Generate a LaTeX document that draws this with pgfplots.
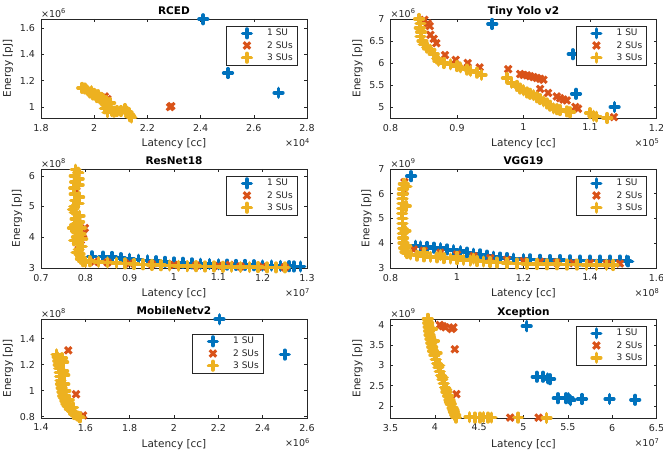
\documentclass[border=0pt]{standalone}
\usepackage{pgfplots}
\pgfplotsset{compat=1.18}
\usepackage{fontspec}
\setmainfont{DejaVu Sans}
\definecolor{c1}{rgb}{0,0.447,0.741}
\definecolor{c2}{rgb}{0.850,0.325,0.098}
\definecolor{c3}{rgb}{0.929,0.694,0.125}
\definecolor{axgray}{rgb}{0.15,0.15,0.15}
\tikzset{scl/.style={inner sep=0pt, font=\fontsize{9.5}{11}\selectfont, text=axgray}}
\pgfplotsset{
 su1/.style={only marks, color=c1, mark=+, mark size=4.3pt, mark options={line width=3.6pt, line cap=round, solid}},
 su2/.style={only marks, color=c2, mark=x, mark size=4.6pt, mark options={line width=3pt, solid}},
 su3/.style={only marks, color=c3, mark=+, mark size=4.3pt, mark options={line width=3.6pt, line cap=round, solid}},
 myax/.style={scale only axis, width=266pt, height=99pt, clip=false,
  axis line style={axgray, line width=0.5pt},
  every tick/.style={axgray, line width=0.5pt}, major tick length=2.8pt,
  tick label style={font=\fontsize{9.5}{11}\selectfont, text=axgray},
  /pgf/number format/assume math mode=true, scaled ticks=false,
  xticklabel style={yshift=-2.5pt}, yticklabel style={xshift=-2.5pt},
  xlabel={Latency [cc]}, ylabel={Energy [pJ]},
  label style={font=\fontsize{10.5}{12}\selectfont, text=axgray},
  xlabel style={at={(axis description cs:0.5,0)}, anchor=base, yshift=-29pt, inner sep=0pt},
  title style={font=\bfseries\fontsize{10.5}{12}\selectfont, at={(axis description cs:0.5,1)}, anchor=base, yshift=-2pt, inner sep=0pt},
  legend style={draw=axgray, line width=0.5pt, fill=white, font=\fontsize{9}{10}\selectfont, text=axgray,
   at={(1,1)}, anchor=north east, xshift=-10pt, yshift=-7pt, inner xsep=2pt, inner ysep=1pt, row sep=0pt},
  legend cell align=left,
  legend image code/.code={\path (0pt,0pt) (36pt,0pt); \draw[##1] plot coordinates {(18pt,0pt)};},
 },
}
\newcommand{\yscl}[1]{\node[scl, anchor=south west, yshift=1.5pt] at (rel axis cs:0,1) {×10\textsuperscript{#1}};}
\newcommand{\xscl}[1]{\node[scl, anchor=north east, yshift=-20pt, xshift=3pt] at (rel axis cs:1,0) {×10\textsuperscript{#1}};}
\begin{document}
\begin{tikzpicture}
\path[use as bounding box] (0pt,0pt) rectangle (663pt,455pt);
% RCED
\begin{axis}[myax, at={(41pt,337pt)}, anchor=south west, title={RCED},
 xmin=1.8, xmax=2.8, ymin=0.917, ymax=1.667,
 xtick={1.8,2,2.2,2.4,2.6,2.8}, ytick={1,1.2,1.4,1.6}]
\addplot[su1] coordinates {(2.41,1.665) (2.503,1.258) (2.693,1.108)};
\addplot[su2] coordinates {(2.285,1.0) (2.29,1.007) (2.04,1.08) (2.03,1.07) (2.05,1.06)};
\addplot[su3] coordinates {(1.955,1.145) (1.965,1.14) (1.975,1.125) (1.985,1.11) (1.99,1.12) (1.995,1.095) (2.0,1.1) (2.005,1.085) (2.01,1.075) (2.015,1.09) (2.02,1.065) (2.025,1.07) (2.03,1.05) (2.035,1.06) (2.04,1.035) (2.045,1.045) (2.045,1.02) (2.05,1.0) (2.04,0.99) (2.05,0.96) (2.06,1.03) (2.065,0.97) (2.075,0.965) (2.085,0.97) (2.1,0.97) (2.115,0.985) (2.125,0.965) (2.13,0.95) (2.135,0.93) (2.14,0.92)};
\legend{1 SU,2 SUs,3 SUs}
\yscl{6}\xscl{4}
\end{axis}
% Tiny Yolo v2
\begin{axis}[myax, at={(390.5pt,337pt)}, anchor=south west, title={Tiny Yolo v2},
 xmin=0.8, xmax=1.2, ymin=4.75, ymax=7.0,
 xtick={0.8,0.9,1,1.1,1.2}, ytick={5,5.5,6,6.5,7}]
\addplot[su1] coordinates {(0.953,6.887) (1.074,6.2) (1.079,5.30) (1.137,5.0)};
\addplot[su2] coordinates {(0.851,6.98) (0.856,6.9) (0.859,6.84) (0.86,6.64) (0.865,6.55) (0.869,6.45) (0.882,6.18) (0.898,6.07) (0.916,6.0) (0.934,5.9) (0.977,5.86) (0.995,5.75) (1.0,5.73) (1.005,5.72) (1.01,5.7) (1.015,5.68) (1.02,5.66) (1.025,5.64) (1.03,5.62) (1.025,5.41) (1.037,5.32) (1.05,5.24) (1.055,5.2) (1.06,5.17) (1.065,5.15) (1.078,5.0) (1.082,4.96) (1.136,4.77)};
\addplot[su3] coordinates {(0.843,7.0) (0.845,6.9) (0.844,6.8) (0.846,6.7) (0.845,6.6) (0.848,6.5) (0.85,6.42) (0.855,6.35) (0.86,6.3) (0.865,6.2) (0.87,6.1) (0.872,6.05) (0.88,6.0) (0.89,5.97) (0.9,5.93) (0.905,5.9) (0.915,5.85) (0.92,5.82) (0.93,5.78) (0.937,5.73) (0.975,5.66) (0.982,5.55) (0.99,5.48) (0.995,5.42) (1.0,5.38) (1.005,5.33) (1.01,5.3) (1.015,5.27) (1.02,5.22) (1.025,5.18) (1.03,5.13) (1.035,5.08) (1.04,5.03) (1.045,4.97) (1.05,4.95) (1.055,4.93) (1.065,4.9) (1.07,4.88) (1.1,4.86) (1.105,4.8) (1.11,4.78) (1.126,4.75)};
\legend{1 SU,2 SUs,3 SUs}
\yscl{6}\xscl{5}
\end{axis}
% ResNet18
\begin{axis}[myax, at={(41pt,187pt)}, anchor=south west, title={ResNet18},
 xmin=0.7, xmax=1.3, ymin=3.0, ymax=6.22,
 xtick={0.7,0.8,0.9,1,1.1,1.2,1.3}, ytick={3,4,5,6}]
\addplot[su1] coordinates {(0.815,3.38) (0.84,3.37) (0.86,3.36) (0.88,3.32) (0.9,3.3) (0.92,3.27) (0.94,3.25) (0.96,3.22) (0.98,3.2) (1.0,3.18) (1.02,3.17) (1.04,3.15) (1.06,3.14) (1.08,3.13) (1.1,3.12) (1.12,3.11) (1.14,3.1) (1.16,3.1) (1.18,3.09) (1.2,3.08) (1.22,3.08) (1.24,3.07) (1.26,3.06) (1.27,3.05) (1.285,3.05)};
\addplot[su2] coordinates {(0.78,6.1) (0.78,5.5) (0.785,3.6) (0.79,3.9) (0.795,4.1) (0.799,4.3) (0.82,3.2) (0.85,3.18) (0.9,3.15) (0.95,3.12) (1.0,3.1) (1.05,3.08) (1.1,3.07) (1.126,3.1) (1.15,3.05) (1.2,3.04) (1.25,3.02)};
\addplot[su3] coordinates {(0.778,6.2) (0.776,6.0) (0.777,5.8) (0.775,5.6) (0.776,5.4) (0.777,5.2) (0.775,5.0) (0.776,4.8) (0.778,4.6) (0.777,4.4) (0.779,4.2) (0.781,4.0) (0.783,3.8) (0.785,3.6) (0.787,3.45) (0.79,3.3) (0.795,3.22) (0.8,3.2) (0.785,5.9) (0.786,5.3) (0.787,4.7) (0.789,4.1) (0.792,3.7) (0.784,6.1) (0.785,5.7) (0.785,5.1) (0.786,4.5) (0.79,4.3) (0.793,3.95) (0.772,4.9) (0.772,4.3) (0.775,3.9) (0.78,3.5) (0.81,3.22) (0.83,3.2) (0.85,3.18) (0.87,3.17) (0.89,3.15) (0.91,3.13) (0.93,3.12) (0.95,3.1) (0.97,3.09) (0.99,3.08) (1.01,3.07) (1.03,3.06) (1.05,3.06) (1.07,3.05) (1.09,3.05) (1.11,3.04) (1.13,3.04) (1.15,3.03) (1.17,3.03) (1.19,3.03) (1.21,3.02) (1.23,3.02) (1.25,3.02)};
\legend{1 SU,2 SUs,3 SUs}
\yscl{8}\xscl{7}
\end{axis}
% VGG19
\begin{axis}[myax, at={(390.5pt,187pt)}, anchor=south west, title={VGG19},
 xmin=0.8, xmax=1.6, ymin=3.0, ymax=7.0,
 xtick={0.8,1,1.2,1.4,1.6}, ytick={3,4,5,6,7}]
\addplot[su1] coordinates {(0.862,6.71) (0.875,3.9) (0.89,3.87) (0.91,3.85) (0.93,3.82) (0.95,3.8) (0.97,3.75) (0.99,3.72) (1.01,3.68) (1.03,3.62) (1.05,3.58) (1.07,3.55) (1.09,3.5) (1.11,3.46) (1.13,3.42) (1.15,3.4) (1.17,3.38) (1.2,3.36) (1.22,3.35) (1.25,3.33) (1.28,3.32) (1.31,3.32) (1.34,3.31) (1.37,3.3) (1.4,3.3) (1.43,3.3) (1.46,3.3) (1.49,3.3) (1.51,3.3) (1.515,3.27)};
\addplot[su2] coordinates {(0.842,6.47) (0.843,6.1) (0.87,3.75) (0.9,3.7) (0.95,3.62) (1.0,3.55) (1.05,3.48) (1.1,3.4) (1.15,3.33) (1.2,3.28) (1.25,3.25) (1.3,3.22) (1.35,3.2) (1.4,3.2) (1.45,3.18) (1.49,3.18)};
\addplot[su3] coordinates {(0.84,6.4) (0.838,6.2) (0.837,6.0) (0.836,5.8) (0.836,5.6) (0.835,5.4) (0.835,5.2) (0.836,5.0) (0.836,4.8) (0.837,4.6) (0.837,4.4) (0.838,4.2) (0.839,4.0) (0.841,3.8) (0.845,3.65) (0.85,3.6) (0.848,6.3) (0.846,5.5) (0.845,4.5) (0.847,3.9) (0.86,3.55) (0.88,3.5) (0.9,3.47) (0.92,3.45) (0.94,3.43) (0.96,3.4) (0.98,3.38) (1.0,3.36) (1.02,3.33) (1.04,3.3) (1.06,3.28) (1.08,3.26) (1.1,3.24) (1.12,3.22) (1.15,3.2) (1.18,3.18) (1.21,3.17) (1.24,3.16) (1.27,3.15) (1.3,3.15) (1.33,3.14) (1.36,3.14) (1.39,3.13) (1.42,3.13) (1.45,3.13) (1.47,3.12) (0.9,3.6) (0.95,3.52) (1.0,3.45) (1.05,3.38)};
\legend{1 SU,2 SUs,3 SUs}
\yscl{9}\xscl{8}
\end{axis}
% MobileNetv2
\begin{axis}[myax, at={(41pt,37pt)}, anchor=south west, title={MobileNetv2},
 xmin=1.4, xmax=2.6, ymin=0.79, ymax=1.552,
 xtick={1.4,1.6,1.8,2,2.2,2.4,2.6}, ytick={0.8,1,1.2,1.4},
 legend style={xshift=-34pt, yshift=-8pt}]
\addplot[su1] coordinates {(2.205,1.55) (2.5,1.278)};
\addplot[su2] coordinates {(1.523,1.311) (1.558,0.973) (1.59,0.81)};
\addplot[su3] coordinates {(1.47,1.28) (1.475,1.26) (1.478,1.23) (1.48,1.2) (1.482,1.17) (1.484,1.14) (1.486,1.11) (1.488,1.08) (1.49,1.05) (1.493,1.02) (1.497,0.99) (1.5,0.96) (1.505,0.94) (1.51,0.92) (1.515,0.9) (1.52,0.88) (1.53,0.86) (1.54,0.84) (1.55,0.82) (1.56,0.81) (1.57,0.8) (1.575,0.795) (1.495,1.25) (1.5,1.15) (1.505,1.05) (1.5,1.22) (1.505,1.12) (1.51,1.0) (1.525,0.93) (1.545,0.87)};
\legend{1 SU,2 SUs,3 SUs}
\yscl{8}\xscl{6}
\end{axis}
% Xception
\begin{axis}[myax, at={(390.5pt,37pt)}, anchor=south west, title={Xception},
 xmin=3.5, xmax=6.5, ymin=1.70, ymax=4.147,
 xtick={3.5,4,4.5,5,5.5,6,6.5}, ytick={2,2.5,3,3.5,4}]
\addplot[su1] coordinates {(5.036,3.97) (5.149,2.72) (5.22,2.72) (5.27,2.68) (5.3,2.66) (5.387,2.19) (5.48,2.19) (5.508,2.19) (5.53,2.14) (5.66,2.17) (5.97,2.17) (6.26,2.15)};
\addplot[su2] coordinates {(4.055,4.0) (4.09,3.97) (4.12,3.94) (4.19,3.9) (4.21,3.94) (4.225,3.40) (4.243,2.29) (4.85,1.71) (5.17,1.71)};
\addplot[su3] coordinates {(3.92,4.15) (3.925,4.05) (3.93,3.95) (3.935,3.85) (3.94,3.75) (3.95,3.65) (3.96,3.55) (3.97,3.45) (3.98,3.35) (3.995,3.25) (4.01,3.15) (4.025,3.05) (4.04,2.95) (4.055,2.85) (4.07,2.75) (4.085,2.65) (4.1,2.55) (4.115,2.45) (4.13,2.35) (4.15,2.25) (4.165,2.15) (4.18,2.05) (4.2,1.95) (4.215,1.85) (4.23,1.77) (4.24,1.71) (3.97,3.9) (3.99,3.6) (4.02,3.3) (4.05,3.0) (4.09,2.7) (4.13,2.4) (4.17,2.1) (4.21,1.9) (4.39,1.72) (4.45,1.71) (4.51,1.71) (4.55,1.72) (4.6,1.71) (4.64,1.71) (4.94,1.71) (5.26,1.70)};
\legend{1 SU,2 SUs,3 SUs}
\yscl{9}\xscl{7}
\end{axis}
\end{tikzpicture}
\end{document}
